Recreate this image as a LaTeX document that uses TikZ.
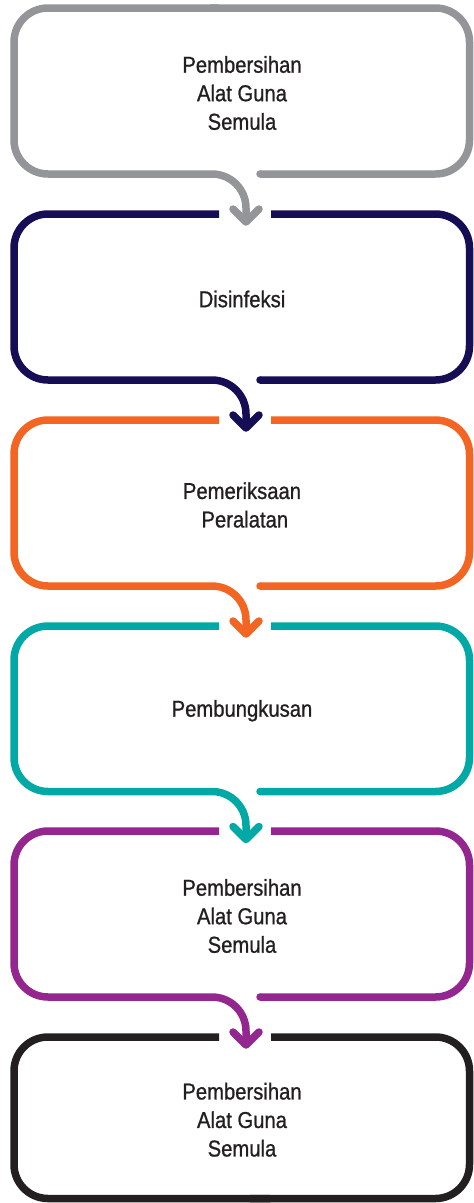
\documentclass[tikz,border=0pt]{standalone}
\usepackage{fontspec}
\setmainfont{Liberation Sans}[FakeStretch=0.88,FakeBold=0.9]
\definecolor{cgray}{HTML}{939598}
\definecolor{cnavy}{HTML}{160E55}
\definecolor{corange}{HTML}{F26522}
\definecolor{cteal}{HTML}{00A9A6}
\definecolor{cpurple}{HTML}{93278F}
\definecolor{cblack}{HTML}{231F20}
\definecolor{ink}{HTML}{231F20}
\begin{document}
\begin{tikzpicture}[x=1pt,y=-1pt,
  outline/.style={line width=7.5pt, line cap=butt, line join=round},
  chevron/.style={line width=7.5pt, line cap=round, line join=round},
  label/.style={align=center, text=ink, inner sep=0pt,
    font=\fontsize{23}{28.5}\selectfont}]
\useasboundingbox (0,0) rectangle (474,1203);
% left and right edges of every box
\def\L{14}\def\R{469.5}
\foreach \k/\t/\b/\c/\txt in {
  1/8/174/cgray/{Pembersihan\\Alat Guna\\Semula},
  2/214/380/cnavy/{Disinfeksi},
  3/420/586/corange/{Pemeriksaan\\\ Peralatan},
  4/626/791.5/cteal/{Pembungkusan},
  5/831/997/cpurple/{Pembersihan\\Alat Guna\\Semula},
  6/1037/1198.5/cblack/{Pembersihan\\Alat Guna\\Semula}}{
  \pgfmathsetmacro\mid{(\t+\b)/2+2}
  \node[label] (box\k) at (242,\mid) {\txt};
  % ends of the top edge around the incoming arrow
  \ifnum\k=1 \def\xa{210}\def\xb{219}\else\def\xa{271}\def\xb{219}\fi
  \coordinate (topR\k) at (\xa,\t);
  \coordinate (topL\k) at (\xb,\t);
  \ifnum\k=6
    % closed bottom edge
    \draw[outline, \c, rounded corners=34pt]
      (250,\b) -- (\R,\b) -- (\R,\t) -- (topR\k);
    \draw[outline, \c, rounded corners=34pt]
      (topL\k) -- (\L,\t) -- (\L,\b) -- (270,\b);
  \else
    \pgfmathsetmacro\tip{\b+48}
    \pgfmathsetmacro\arm{\b+35}
    \coordinate (gap\k) at (260,\b);
    \coordinate (tip\k) at (246,\tip);
    \draw[outline, \c, rounded corners=34pt]
      (gap\k) -- (\R,\b) -- (\R,\t) -- (topR\k);
    \fill[\c] (gap\k) circle[radius=3.75pt];
    \draw[outline, \c, rounded corners=34pt]
      (topL\k) -- (\L,\t) -- (\L,\b) -- (246,\b) [rounded corners=26pt] -- (tip\k);
    \draw[chevron, \c] (233,\arm) -- (tip\k) -- (259,\arm);
  \fi
}
\end{tikzpicture}
\end{document}
